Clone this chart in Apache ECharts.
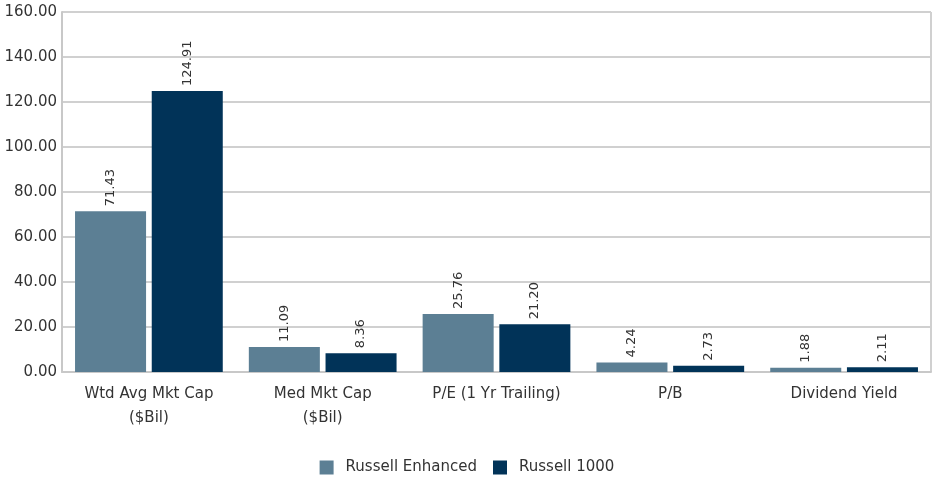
<!DOCTYPE html>
<html><head><meta charset="utf-8">
<script src="https://cdn.jsdelivr.net/npm/echarts@6/dist/echarts.min.js"></script>
<style>html,body{margin:0;padding:0;background:#fff}#c{width:934px;height:477px}</style>
</head><body><div id="c"></div>
<script>
const categories = ['Wtd Avg Mkt Cap\n($Bil)', 'Med Mkt Cap\n($Bil)', 'P/E (1 Yr Trailing)', 'P/B', 'Dividend Yield'];
const russellEnhanced = [71.43, 11.09, 25.76, 4.24, 1.88];
const russell1000 = [124.91, 8.36, 21.20, 2.73, 2.11];
const seriesNames = ['Russell Enhanced', 'Russell 1000'];

const font = 'DejaVu Sans';
const chart = echarts.init(document.getElementById('c'));
const lbl = {
  show: true, position: 'top', rotate: 90, align: 'left', verticalAlign: 'middle',
  distance: 5, color: '#333', fontSize: 13, fontFamily: font,
  formatter: p => p.value.toFixed(2)
};
chart.setOption({
  animation: false,
  grid: { left: 62, right: 3, top: 12, bottom: 105 },
  legend: {
    bottom: -3, left: 'center', itemWidth: 14, itemHeight: 14, itemGap: 16,
    icon: 'rect', textStyle: { color: '#333', fontSize: 15, fontFamily: font, padding: [0, 0, 0, 7] }
  },
  xAxis: {
    type: 'category', data: categories,
    axisLine: { lineStyle: { color: '#c8c8c8', width: 2 } },
    axisTick: { show: false },
    axisLabel: { color: '#333', fontSize: 15, fontFamily: font, lineHeight: 24, margin: 10 }
  },
  yAxis: {
    type: 'value', min: 0, max: 160, interval: 20,
    axisLine: { show: true, lineStyle: { color: '#c8c8c8', width: 2 } },
    splitLine: { lineStyle: { color: '#d0d0d0', width: 2 } },
    axisLabel: { color: '#333', fontSize: 15, fontFamily: font, margin: 5, formatter: v => v.toFixed(2) }
  },
  series: [
    { name: seriesNames[0], type: 'bar', data: russellEnhanced, itemStyle: { color: '#5c7f94' },
      barGap: '8%', barCategoryGap: '15%', label: lbl },
    { name: seriesNames[1], type: 'bar', data: russell1000, itemStyle: { color: '#013358' }, label: lbl }
  ],
  graphic: [{ type: 'line', shape: { x1: 931, y1: 12, x2: 931, y2: 372 }, style: { stroke: '#d0d0d0', lineWidth: 2 } }]
});
</script></body></html>
